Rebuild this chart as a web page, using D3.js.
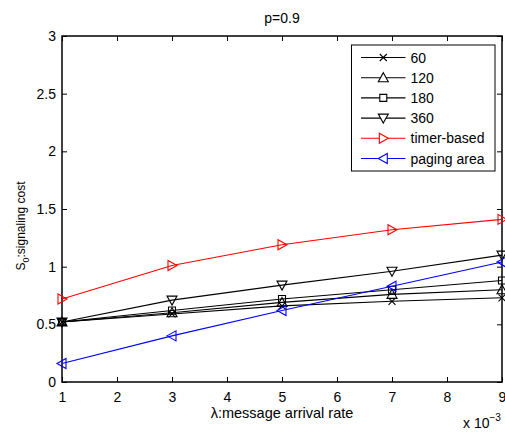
<!DOCTYPE html>
<html>
<head>
<meta charset="utf-8">
<script src="https://cdn.jsdelivr.net/npm/d3@7"></script>
<style>
  html, body { margin: 0; padding: 0; background: #fff; }
  svg { display: block; font-family: "Liberation Sans", Arial, sans-serif; }
</style>
</head>
<body>
<svg id="chart" width="505" height="433"></svg>
<script>
// Message arrival rate (x 10^-3)
const lambdas = [1, 3, 5, 7, 9];
const xTicks = [1, 2, 3, 4, 5, 6, 7, 8, 9];
const yTicks = [0, 0.5, 1, 1.5, 2, 2.5, 3];

// Signaling cost per scheme
const cost60     = [0.52, 0.59, 0.66, 0.70, 0.73];
const cost120    = [0.52, 0.60, 0.69, 0.76, 0.80];
const cost180    = [0.52, 0.62, 0.72, 0.80, 0.88];
const cost360    = [0.52, 0.71, 0.84, 0.96, 1.10];
const costTimer  = [0.72, 1.01, 1.19, 1.32, 1.41];
const costPaging = [0.16, 0.40, 0.62, 0.83, 1.04];

const seriesNames   = ["60", "120", "180", "360", "timer-based", "paging area"];
const seriesValues  = [cost60, cost120, cost180, cost360, costTimer, costPaging];
const seriesColors  = ["#000", "#000", "#000", "#000", "#ff0000", "#0000ff"];
const seriesMarkers = ["x", "up", "square", "down", "right", "left"];

const svg = d3.select("#chart");
const L = 62, R = 502, T = 36, B = 382;

const x = d3.scaleLinear().domain([1, 9]).range([L, R]);
const y = d3.scaleLinear().domain([0, 3]).range([B, T]);

// marker path generator, centred on 0,0
function markerPath(type) {
  const s = 5;
  switch (type) {
    case "x": return `M${-3.5},${-3.5}L3.5,3.5M${-3.5},3.5L3.5,${-3.5}`;
    case "up": return `M0,${-s}L${s},${s * 0.8}L${-s},${s * 0.8}Z`;
    case "down": return `M0,${s}L${s},${-s * 0.8}L${-s},${-s * 0.8}Z`;
    case "right": return `M${s},0L${-s * 0.8},${-s}L${-s * 0.8},${s}Z`;
    case "left": return `M${-s},0L${s * 0.8},${-s}L${s * 0.8},${s}Z`;
    case "square": return `M-3.5,-3.5H3.5V3.5H-3.5Z`;
  }
}

// axes box with ticks on all four sides
const tickLen = 5;
const g = svg.append("g");

g.append("g")
  .attr("transform", `translate(0,${B})`)
  .call(d3.axisBottom(x).tickValues(xTicks).tickSize(-tickLen).tickPadding(10).tickFormat(d3.format("d")))
  .call(a => a.select(".domain").remove());
g.append("g")
  .attr("transform", `translate(0,${T})`)
  .call(d3.axisTop(x).tickValues(xTicks).tickSize(-tickLen).tickFormat(""))
  .call(a => a.select(".domain").remove());
g.append("g")
  .attr("transform", `translate(${L},0)`)
  .call(d3.axisLeft(y).tickValues(yTicks).tickSize(-tickLen).tickPadding(6).tickFormat(d3.format("")))
  .call(a => a.select(".domain").remove());
g.append("g")
  .attr("transform", `translate(${R},0)`)
  .call(d3.axisRight(y).tickValues(yTicks).tickSize(-tickLen).tickFormat(""))
  .call(a => a.select(".domain").remove());

g.selectAll(".tick line").attr("stroke", "#000").attr("stroke-width", 1);
g.selectAll(".tick text").attr("fill", "#000").style("font-size", "14px").style("font-family", "Liberation Sans, Arial, sans-serif");

svg.append("rect")
  .attr("x", L).attr("y", T).attr("width", R - L).attr("height", B - T)
  .attr("fill", "none").attr("stroke", "#000").attr("stroke-width", 1.5);

// series
const line = d3.line().x((d, i) => x(lambdas[i])).y(d => y(d));
seriesValues.forEach((vals, k) => {
  const sg = svg.append("g");
  sg.append("path").datum(vals)
    .attr("d", line).attr("fill", "none")
    .attr("stroke", seriesColors[k]).attr("stroke-width", 1.1);
  sg.selectAll("path.m").data(vals).join("path")
    .attr("class", "m")
    .attr("transform", (d, i) => `translate(${x(lambdas[i])},${y(d)})`)
    .attr("d", markerPath(seriesMarkers[k]))
    .attr("fill", "none").attr("stroke", seriesColors[k]).attr("stroke-width", 1.1);
});

// title and labels
svg.append("text").attr("x", (L + R) / 2).attr("y", 23)
  .attr("text-anchor", "middle").style("font-size", "14px").text("p=0.9");

svg.append("text").attr("x", (L + R) / 2).attr("y", 418)
  .attr("text-anchor", "middle").style("font-size", "14.5px").text("λ:message arrival rate");

const ex = svg.append("text").attr("x", 463).attr("y", 428).style("font-size", "14px");
ex.append("tspan").text("x 10");
ex.append("tspan").attr("dy", -7).style("font-size", "10px").text("−3");

const yl = svg.append("text")
  .attr("transform", `translate(25,226) rotate(-90)`)
  .attr("text-anchor", "middle").style("font-size", "12px");
yl.append("tspan").text("S");
yl.append("tspan").attr("dy", 4).style("font-size", "9px").text("0");
yl.append("tspan").attr("dy", -4).text(":signaling cost");

// legend
const lg = svg.append("g");
lg.append("rect").attr("x", 351.5).attr("y", 45).attr("width", 143.5).attr("height", 126)
  .attr("fill", "#fff").attr("stroke", "#000").attr("stroke-width", 1);
seriesNames.forEach((name, k) => {
  const cy = 57.5 + k * 20.2;
  lg.append("line").attr("x1", 361).attr("x2", 405.5).attr("y1", cy).attr("y2", cy)
    .attr("stroke", seriesColors[k]).attr("stroke-width", 1.1);
  lg.append("path").attr("transform", `translate(383.3,${cy})`)
    .attr("d", markerPath(seriesMarkers[k]))
    .attr("fill", "#fff").attr("stroke", seriesColors[k]).attr("stroke-width", 1.1);
  lg.append("text").attr("x", 410.5).attr("y", cy + 5)
    .style("font-size", "14px").text(name);
});
</script>
</body>
</html>
